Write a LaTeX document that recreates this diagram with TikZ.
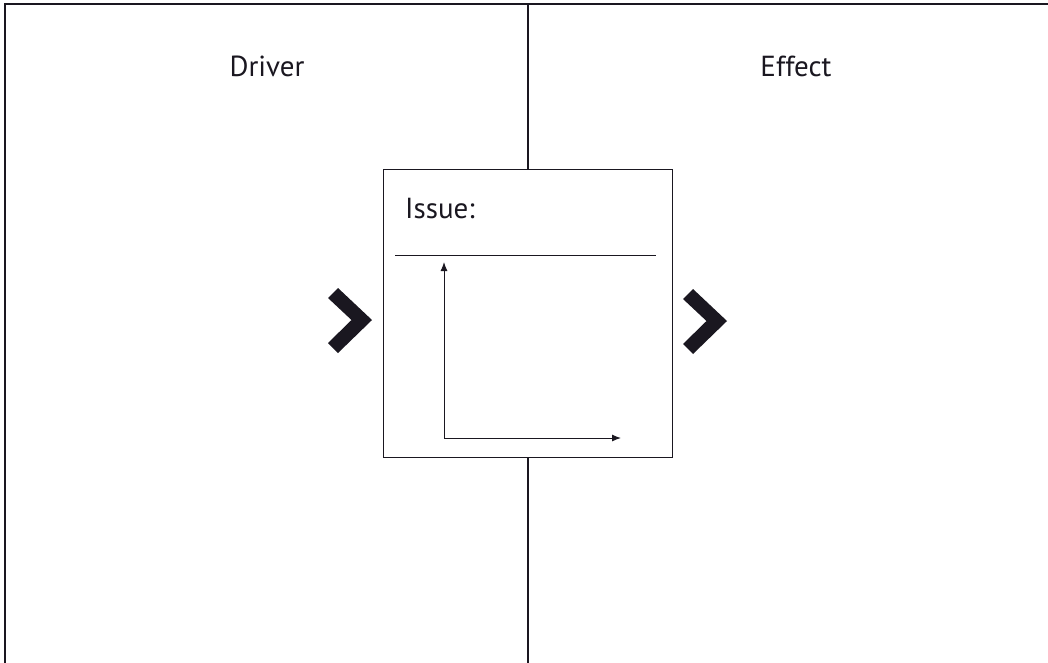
\documentclass[tikz,border=0pt]{standalone}
\usepackage{fontspec}
\setmainfont{PT Sans}
\usetikzlibrary{arrows.meta}
\definecolor{ink}{RGB}{26,23,32}
\begin{document}
\begin{tikzpicture}[x=1pt,y=-1pt,
  frame/.style={draw=ink,line width=1.4pt},
  label/.style={font=\fontsize{29}{32}\selectfont,text=ink,inner sep=0pt},
  chevron/.style={fill=ink,draw=none},
  axis/.style={draw=ink,line width=1pt,-{Latex[length=9pt,width=7pt]}}]
  \useasboundingbox (0,0) rectangle (1048,662);
  % open frame: top and left edges, centre divider
  \coordinate (tl) at (5,4);
  \coordinate (tr) at (1050,4);
  \coordinate (bl) at (5,664);
  \draw[frame] (tr) -- (tl) -- (bl);
  % issue box in the middle
  \node[frame,draw,minimum width=289pt,minimum height=288pt,inner sep=0pt,anchor=north west] (box) at (383,169) {};
  \coordinate (divtop) at (528,4);
  \coordinate (divbot) at (528,664);
  \draw[frame] (divtop) -- (box.north -| divtop);
  \draw[frame] (box.south -| divbot) -- (divbot);
  % headings
  \node[label,anchor=base] (driver) at (267,76) {Driver};
  \node[label,anchor=base] (effect) at (796,76) {Effect};
  \node[label,anchor=base west] (issue) at (405,218) {Issue:};
  % rule under the issue title
  \coordinate (r1) at (395,255);
  \coordinate (r2) at (656,255);
  \draw[draw=ink,line width=1pt] (r1) -- (r2);
  % small chart axes
  \coordinate (origin) at (444,438);
  \coordinate (ytip) at (444,262);
  \coordinate (xtip) at (621,438);
  \draw[axis] (origin) -- (ytip);
  \draw[axis] (origin) -- (xtip);
  % chevrons on both sides
  \fill[chevron] (328,298) -- (338,288) -- (372,320) -- (338,353) -- (328,343) -- (351.5,320) -- cycle;
  \fill[chevron] (683,299) -- (693,289) -- (727,321) -- (693,354) -- (683,344) -- (706.5,321) -- cycle;
\end{tikzpicture}
\end{document}
